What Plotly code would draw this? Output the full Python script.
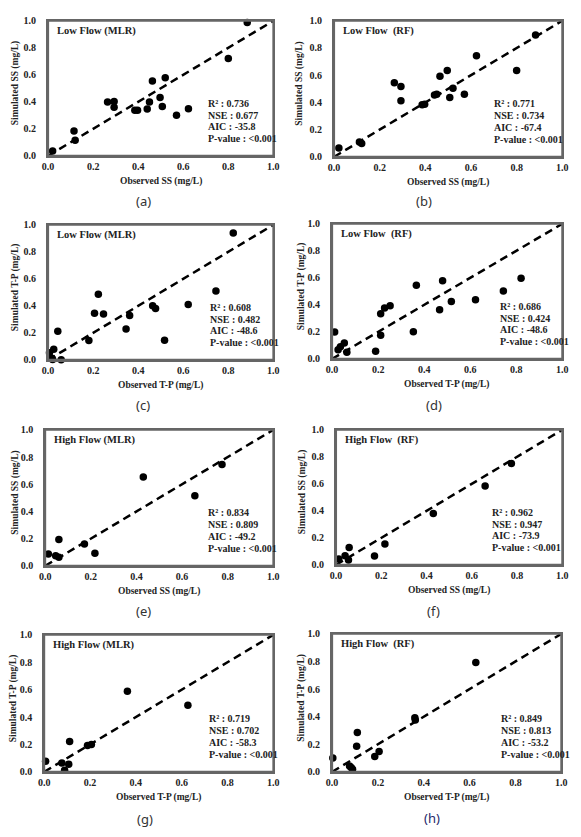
import plotly.graph_objects as go

# ---------------- data ----------------
# (a) Low flow SS, MLR
a_obs = [0.02, 0.115, 0.12, 0.264, 0.293, 0.293, 0.385, 0.397, 0.44, 0.45, 0.463, 0.497, 0.507, 0.52, 0.57, 0.623, 0.80, 0.884]
a_sim = [0.035, 0.183, 0.115, 0.398, 0.402, 0.359, 0.337, 0.337, 0.346, 0.398, 0.554, 0.432, 0.366, 0.578, 0.300, 0.349, 0.720, 0.988]
# (b) Low flow SS, RF
b_obs = [0.021, 0.111, 0.121, 0.264, 0.293, 0.293, 0.386, 0.397, 0.44, 0.45, 0.464, 0.496, 0.507, 0.521, 0.571, 0.624, 0.80, 0.883]
b_sim = [0.065, 0.109, 0.097, 0.545, 0.516, 0.412, 0.383, 0.387, 0.455, 0.46, 0.593, 0.634, 0.436, 0.504, 0.46, 0.743, 0.634, 0.896]
# (c) Low flow T-P, MLR
c_obs = [0.006, 0.016, 0.02, 0.025, 0.043, 0.058, 0.181, 0.206, 0.223, 0.246, 0.346, 0.362, 0.464, 0.477, 0.517, 0.622, 0.745, 0.822]
c_sim = [0.053, 0.012, 0.002, 0.078, 0.211, 0.0, 0.143, 0.345, 0.485, 0.34, 0.228, 0.328, 0.40, 0.381, 0.146, 0.41, 0.51, 0.939]
# (d) Low flow T-P, RF
d_obs = [0.011, 0.026, 0.036, 0.053, 0.064, 0.189, 0.211, 0.211, 0.228, 0.252, 0.353, 0.366, 0.467, 0.48, 0.518, 0.623, 0.744, 0.821]
d_sim = [0.199, 0.068, 0.09, 0.117, 0.049, 0.056, 0.175, 0.335, 0.376, 0.393, 0.201, 0.546, 0.364, 0.578, 0.425, 0.437, 0.502, 0.597]
# (e) High flow SS, MLR
e_obs = [0.014, 0.046, 0.06, 0.06, 0.172, 0.218, 0.43, 0.656, 0.775]
e_sim = [0.087, 0.075, 0.063, 0.194, 0.16, 0.092, 0.654, 0.516, 0.745]
# (f) High flow SS, RF
f_obs = [0.012, 0.04, 0.058, 0.055, 0.17, 0.216, 0.43, 0.659, 0.775]
f_sim = [0.044, 0.068, 0.129, 0.037, 0.066, 0.154, 0.38, 0.585, 0.751]
# (g) High flow T-P, MLR
g_obs = [0.006, 0.077, 0.089, 0.107, 0.111, 0.189, 0.206, 0.363, 0.627]
g_sim = [0.077, 0.065, 0.012, 0.055, 0.221, 0.192, 0.199, 0.588, 0.487]
# (h) High flow T-P, RF
h_obs = [0.003, 0.076, 0.083, 0.089, 0.107, 0.11, 0.186, 0.205, 0.361, 0.363, 0.627]
h_sim = [0.10, 0.043, 0.031, 0.019, 0.186, 0.286, 0.112, 0.148, 0.393, 0.376, 0.793]

one_to_one = [0.0, 1.0]
tick_vals = [0.0, 0.2, 0.4, 0.6, 0.8, 1.0]
tick_text = ["0.0", "0.2", "0.4", "0.6", "0.8", "1.0"]

titles = ["Low Flow (MLR)", "Low Flow\u00a0\u00a0(RF)", "Low Flow (MLR)", "Low Flow\u00a0\u00a0(RF)",
          "High Flow (MLR)", "High Flow\u00a0\u00a0(RF)", "High Flow (MLR)", "High Flow\u00a0\u00a0(RF)"]
x_titles = ["Observed SS (mg/L)", "Observed SS (mg/L)", "Observed T-P (mg/L)", "Observed T-P (mg/L)",
            "Observed SS (mg/L)", "Observed SS (mg/L)", "Observed T-P (mg/L)", "Observed T-P (mg/L)"]
y_titles = ["Simulated SS (mg/L)", "Simulated SS (mg/L)", "Simulated T-P (mg/L)", "Simulated T-P (mg/L)",
            "Simulated SS (mg/L)", "Simulated SS (mg/L)", "Simulated T-P (mg/L)", "Simulated T-P (mg/L)"]
r2 = ["0.736", "0.771", "0.608", "0.686", "0.834", "0.962", "0.719", "0.849"]
nse = ["0.677", "0.734", "0.482", "0.424", "0.809", "0.947", "0.702", "0.813"]
aic = ["-35.8", "-67.4", "-48.6", "-48.6", "-49.2", "-73.9", "-58.3", "-53.2"]
pval = ["<0.001"] * 8
labels = ["(a)", "(b)", "(c)", "(d)", "(e)", "(f)", "(g)", "(h)"]

obs = [a_obs, b_obs, c_obs, d_obs, e_obs, f_obs, g_obs, h_obs]
sim = [a_sim, b_sim, c_sim, d_sim, e_sim, f_sim, g_sim, h_sim]

# ---------------- layout geometry (pixels) ----------------
W, H = 581, 837
# plot boxes: left, right, top, bottom
boxes = [(43, 273, 15, 152), (335, 568, 15, 153),
         (43, 273, 222, 359), (333, 568, 221, 358),
         (40, 273, 430, 568), (337, 568, 430, 567),
         (39, 273, 638, 777), (333, 567, 637, 777)]
ytitle_x = [10, 300, 10, 302, 10, 303, 8, 302]
label_pos = [(140, 198), (427, 198), (140, 405), (437, 405),
             (140, 614), (437, 614), (142, 825), (435, 824)]
label_colors = ["#333333"] * 7 + ["#1f2a6b"]
stats_x = [0.70, 0.69, 0.71, 0.72, 0.705, 0.68, 0.71, 0.73]

SERIF = "Liberation Serif"

def px(x):
    return x / W

def py(y):
    return 1 - y / H

fig = go.Figure()
layout = dict(width=W, height=H, margin=dict(l=0, r=0, t=0, b=0),
              paper_bgcolor="white", plot_bgcolor="white", showlegend=False)
annotations = []
shapes = []

for i in range(8):
    n = i + 1
    xa = "x" if n == 1 else f"x{n}"
    ya = "y" if n == 1 else f"y{n}"
    l, r, t, b = boxes[i]
    fig.add_trace(go.Scatter(x=one_to_one, y=one_to_one, mode="lines", xaxis=xa, yaxis=ya,
                             line=dict(color="black", width=2.5, dash="8px,5px"),
                             hoverinfo="skip", cliponaxis=False))
    fig.add_trace(go.Scatter(x=obs[i], y=sim[i], mode="markers", xaxis=xa, yaxis=ya,
                             marker=dict(color="black", size=7.5), cliponaxis=False))
    axcommon = dict(range=[0, 1], tickvals=tick_vals, ticktext=tick_text, showgrid=False,
                    zeroline=False, showline=True, mirror=True, linecolor="#666666", linewidth=2,
                    ticks="",
                    tickfont=dict(family=SERIF, size=10, color="#222222", weight="bold"))
    layout[f"xaxis{'' if n == 1 else n}"] = dict(axcommon, domain=[px(l), px(r)], anchor=ya,
                                                  ticklabelstandoff=0)
    layout[f"yaxis{'' if n == 1 else n}"] = dict(axcommon, domain=[py(b), py(t)], anchor=xa,
                                                  ticklabelstandoff=8)
    # plot frame in paper coordinates (not clipped by the subplot)
    shapes.append(dict(type="rect", xref="paper", yref="paper",
                       x0=px(l), x1=px(r), y0=py(b), y1=py(t),
                       line=dict(color="#666666", width=2), fillcolor="rgba(0,0,0,0)",
                       layer="above"))
    xd = f"{xa} domain"
    yd = f"{ya} domain"
    # panel title
    annotations.append(dict(x=0.03, y=0.925, xref=xd, yref=yd, text=titles[i], showarrow=False,
                            xanchor="left", yanchor="middle",
                            font=dict(family=SERIF, size=10.5, color="#222222", weight="bold")))
    # stats
    stats = [f"R\u00b2 : {r2[i]}", f"NSE : {nse[i]}", f"AIC : {aic[i]}", f"P-value : {pval[i]}"]
    for k, s in enumerate(stats):
        annotations.append(dict(x=stats_x[i], y=0.39 - k * 0.088, xref=xd, yref=yd, text=s,
                                showarrow=False, xanchor="left", yanchor="middle",
                                font=dict(family=SERIF, size=10, color="#222222", weight="bold")))
    # axis titles
    annotations.append(dict(x=px((l + r) / 2), y=py(b + 26), xref="paper", yref="paper",
                            text=x_titles[i], showarrow=False, xanchor="center", yanchor="middle",
                            font=dict(family=SERIF, size=9.5, color="#222222", weight="bold")))
    annotations.append(dict(x=px(ytitle_x[i]), y=py((t + b) / 2 - 5), xref="paper", yref="paper",
                            text=y_titles[i], showarrow=False, textangle=-90,
                            xanchor="center", yanchor="middle",
                            font=dict(family=SERIF, size=9.5, color="#222222", weight="bold")))
    # panel label
    lx, ly = label_pos[i]
    annotations.append(dict(x=px(lx), y=py(ly), xref="paper", yref="paper", text=labels[i],
                            showarrow=False, xanchor="center", yanchor="middle",
                            font=dict(family="Noto Sans", size=13, color=label_colors[i])))

layout["annotations"] = annotations
layout["shapes"] = shapes
fig.update_layout(**layout)
fig.write_html("out.html")
